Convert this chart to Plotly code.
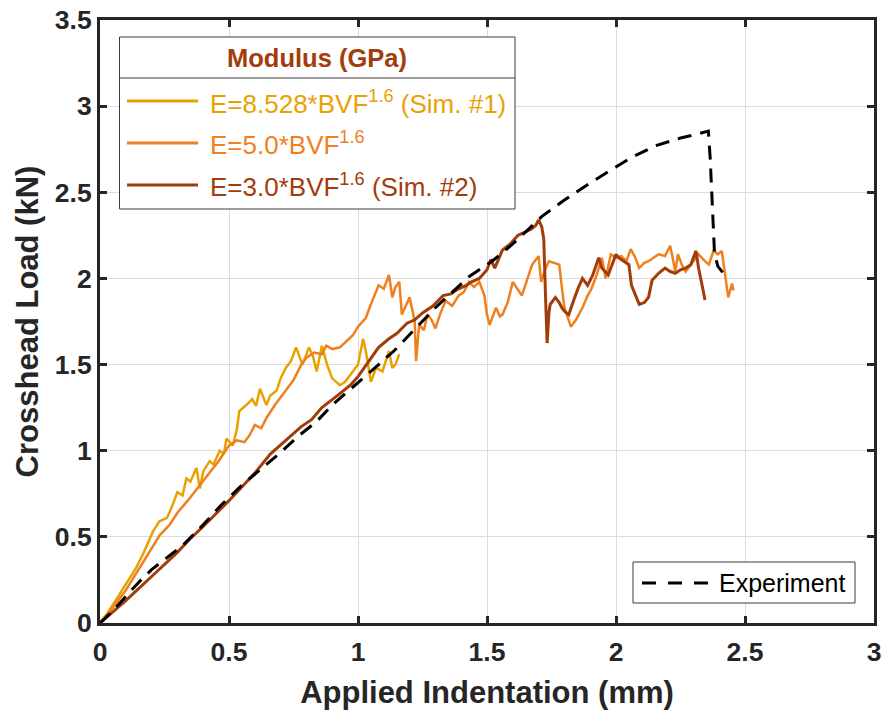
import plotly.graph_objects as go

# ---------------- data ----------------
sim1_x = [0, 0.03, 0.06, 0.09, 0.116, 0.14, 0.17, 0.205, 0.23, 0.26, 0.28, 0.30, 0.32, 0.335, 0.35,
          0.374, 0.387, 0.40, 0.425, 0.44, 0.464, 0.48, 0.49, 0.515, 0.53, 0.54, 0.567, 0.59, 0.605,
          0.62, 0.645, 0.66, 0.685, 0.70, 0.72, 0.74, 0.76, 0.785, 0.81, 0.825, 0.84, 0.86, 0.88,
          0.90, 0.93, 0.95, 0.98, 1.0, 1.02, 1.03, 1.05, 1.07, 1.095, 1.12, 1.133, 1.145, 1.16]
sim1_y = [0, 0.06, 0.13, 0.20, 0.26, 0.32, 0.41, 0.53, 0.59, 0.61, 0.68, 0.76, 0.74, 0.84, 0.82,
          0.90, 0.78, 0.88, 0.94, 0.92, 1.00, 0.98, 1.07, 1.03, 1.12, 1.23, 1.265, 1.30, 1.26,
          1.36, 1.265, 1.32, 1.35, 1.42, 1.48, 1.52, 1.60, 1.50, 1.60, 1.55, 1.46, 1.61, 1.50,
          1.42, 1.38, 1.40, 1.46, 1.50, 1.65, 1.58, 1.40, 1.48, 1.46, 1.58, 1.48, 1.50, 1.56]

sim5_x = [0, 0.05, 0.1, 0.15, 0.2, 0.232, 0.27, 0.30, 0.34, 0.387, 0.42, 0.46, 0.50, 0.53, 0.56,
          0.58, 0.60, 0.625, 0.645, 0.68, 0.72, 0.75, 0.78, 0.80, 0.83, 0.86, 0.877, 0.90, 0.93,
          0.96, 0.98, 1.0, 1.03, 1.05, 1.08, 1.10, 1.12, 1.133, 1.145, 1.16, 1.17, 1.185, 1.20,
          1.22, 1.225, 1.237, 1.255, 1.27, 1.285, 1.30, 1.32, 1.34, 1.365, 1.39, 1.41, 1.43, 1.45,
          1.47, 1.49, 1.50, 1.51, 1.535, 1.55, 1.56, 1.58, 1.60, 1.62, 1.635, 1.655, 1.675, 1.70,
          1.71, 1.725, 1.74, 1.76, 1.78, 1.79, 1.80, 1.825, 1.845, 1.87, 1.89, 1.905, 1.925, 1.945,
          1.96, 1.98, 2.0, 2.02, 2.04, 2.057, 2.075, 2.09, 2.11, 2.126, 2.145, 2.165, 2.19, 2.21,
          2.23, 2.24, 2.255, 2.27, 2.30, 2.32, 2.345, 2.36, 2.378, 2.395, 2.41, 2.43, 2.435, 2.45,
          2.455]
sim5_y = [0, 0.09, 0.19, 0.31, 0.43, 0.51, 0.57, 0.64, 0.71, 0.80, 0.86, 0.94, 1.03, 1.06, 1.05,
          1.09, 1.15, 1.13, 1.19, 1.27, 1.35, 1.41, 1.50, 1.54, 1.57, 1.56, 1.61, 1.59, 1.60,
          1.64, 1.67, 1.72, 1.77, 1.85, 1.96, 1.94, 2.02, 1.89, 1.95, 1.98, 1.79, 1.84, 1.89,
          1.75, 1.52, 1.73, 1.70, 1.79, 1.76, 1.71, 1.80, 1.87, 1.84, 1.90, 1.92, 1.98, 1.95,
          1.98, 1.90, 1.79, 1.73, 1.83, 1.78, 1.79, 1.86, 1.98, 1.93, 1.90, 1.99, 2.08, 2.13,
          1.98, 2.05, 2.10, 2.09, 2.08, 1.95, 1.83, 1.72, 1.76, 1.83, 1.90, 1.94, 2.02, 2.12,
          2.00, 2.14, 2.12, 2.13, 2.10, 2.17, 2.12, 2.06, 2.09, 2.10, 2.12, 2.14, 2.13, 2.19,
          2.04, 2.14, 2.08, 2.04, 2.10, 2.14, 2.10, 2.08, 2.16, 2.14, 2.16, 1.96, 1.89, 1.97,
          1.93]

sim2_x = [0, 0.1, 0.2, 0.3, 0.35, 0.4, 0.5, 0.6, 0.66, 0.72, 0.78, 0.82, 0.86, 0.92, 0.97, 1.0,
          1.044, 1.08, 1.12, 1.15, 1.19, 1.22, 1.25, 1.29, 1.33, 1.36, 1.39, 1.42, 1.44, 1.47, 1.50,
          1.515, 1.53, 1.56, 1.59, 1.62, 1.65, 1.675, 1.69, 1.70, 1.712, 1.72, 1.727, 1.733, 1.74,
          1.745, 1.765, 1.78, 1.79, 1.80, 1.817, 1.83, 1.84, 1.855, 1.87, 1.89, 1.91, 1.933, 1.945,
          1.97, 2.0, 2.01, 2.03, 2.05, 2.06, 2.075, 2.09, 2.11, 2.126, 2.14, 2.165, 2.19, 2.21,
          2.23, 2.25, 2.27, 2.29, 2.31, 2.32, 2.335, 2.345]
sim2_y = [0, 0.13, 0.27, 0.41, 0.49, 0.56, 0.71, 0.87, 0.98, 1.06, 1.14, 1.18, 1.25, 1.32, 1.38, 1.43,
          1.52, 1.60, 1.65, 1.68, 1.74, 1.76, 1.80, 1.84, 1.90, 1.91, 1.94, 1.96, 1.98, 2.00, 2.05,
          2.11, 2.06, 2.165, 2.20, 2.25, 2.27, 2.29, 2.31, 2.34, 2.30, 2.23, 1.89, 1.625, 1.80,
          1.85, 1.89, 1.86, 1.83, 1.81, 1.79, 1.84, 1.89, 1.95, 2.0, 1.96, 2.02, 2.12, 2.06,
          2.02, 2.14, 2.12, 2.10, 2.08, 1.96, 1.90, 1.85, 1.86, 1.89, 1.99, 2.03, 2.06, 2.04,
          2.03, 2.05, 2.06, 2.08, 2.16, 2.06, 1.95, 1.875]

exp_x = [0, 0.05, 0.1, 0.155, 0.2, 0.25, 0.32, 0.4, 0.47, 0.55, 0.63, 0.7, 0.773, 0.84, 0.9, 0.99,
         1.08, 1.14, 1.21, 1.30, 1.43, 1.52, 1.6, 1.713, 1.80, 1.906, 1.998, 2.057, 2.153, 2.25,
         2.32, 2.358, 2.365, 2.372, 2.378, 2.382, 2.395, 2.416]
exp_y = [0, 0.07, 0.155, 0.244, 0.31, 0.37, 0.45, 0.57, 0.685, 0.80, 0.90, 0.99, 1.09, 1.17, 1.265,
         1.38, 1.50, 1.58, 1.69, 1.83, 2.01, 2.10, 2.20, 2.36, 2.455, 2.56, 2.645, 2.70, 2.77,
         2.815, 2.84, 2.855, 2.70, 2.45, 2.22, 2.14, 2.07, 2.03]

x_ticks = [0, 0.5, 1, 1.5, 2, 2.5, 3]
x_tick_labels = ["0", "0.5", "1", "1.5", "2", "2.5", "3"]
y_ticks = [0, 0.5, 1, 1.5, 2, 2.5, 3, 3.5]
y_tick_labels = ["0", "0.5", "1", "1.5", "2", "2.5", "3", "3.5"]

series_names = ["E=8.528*BVF<sup>1.6</sup> (Sim. #1)", "E=5.0*BVF<sup>1.6</sup>",
                "E=3.0*BVF<sup>1.6</sup> (Sim. #2)"]
exp_name = "Experiment"
legend_title = "Modulus (GPa)"

# ---------------- style ----------------
C_YEL = "#E8A200"
C_ORG = "#F07F1E"
C_BRN = "#A23C0A"
AX = "#262626"
FONT = "Liberation Sans, Arial, sans-serif"

W, H = 883, 711
PL, PR, PT, PB = 100, 874, 20, 623   # plot-area pixel edges

fig = go.Figure()
for xs, ys, col, w, nm in [(sim1_x, sim1_y, C_YEL, 2.5, series_names[0]),
                           (sim5_x, sim5_y, C_ORG, 2.5, series_names[1]),
                           (sim2_x, sim2_y, C_BRN, 3, series_names[2])]:
    fig.add_trace(go.Scatter(x=xs, y=ys, mode="lines", name=nm,
                             line=dict(color=col, width=w)))
fig.add_trace(go.Scatter(x=exp_x, y=exp_y, mode="lines", name=exp_name,
                         line=dict(color="black", width=3, dash="14px,9px")))

axis_common = dict(showgrid=True, gridcolor="#dcdcdc", gridwidth=1, zeroline=False,
                   showline=True, linecolor=AX, linewidth=3, mirror="allticks",
                   ticks="inside", ticklen=7, tickwidth=2.5, tickcolor=AX, automargin=False,
                   tickfont=dict(family=FONT, size=26.5, color=AX, weight="bold"))
fig.update_xaxes(range=[0, 3], tickvals=x_ticks, ticktext=x_tick_labels, ticklabelstandoff=3,
                 title=dict(text="Applied Indentation (mm)", standoff=16,
                            font=dict(family=FONT, size=31, color=AX, weight="bold")),
                 **axis_common)
fig.update_yaxes(range=[0, 3.5], tickvals=y_ticks, ticktext=y_tick_labels,
                 title=dict(text="Crosshead Load (kN)", standoff=8,
                            font=dict(family=FONT, size=31, color=AX, weight="bold")),
                 **axis_common)

fig.update_layout(width=W, height=H, margin=dict(l=PL, r=W - PR, t=PT, b=H - PB),
                  plot_bgcolor="white", paper_bgcolor="white", showlegend=False,
                  font=dict(family=FONT, color=AX))


def px(p):
    return (p - PL) / (PR - PL)


def py(p):
    return (PB - p) / (PB - PT)


shapes = []
anns = []
# legend 1 box
shapes.append(dict(type="rect", xref="paper", yref="paper", x0=px(119.5), x1=px(515),
                   y0=py(209), y1=py(37), fillcolor="white", line=dict(color="#3a3a3a", width=1),
                   layer="above"))
shapes.append(dict(type="line", xref="paper", yref="paper", x0=px(119.5), x1=px(515),
                   y0=py(78), y1=py(78), line=dict(color="#3a3a3a", width=1), layer="above"))
anns.append(dict(text="<b>" + legend_title + "</b>", xref="paper", yref="paper", x=px(317), y=py(58),
                 xanchor="center", yanchor="middle", showarrow=False,
                 font=dict(family=FONT, size=25.5, color=C_BRN)))
for i, (col, nm) in enumerate(zip([C_YEL, C_ORG, C_BRN], series_names)):
    yl = [101, 143, 185][i]
    shapes.append(dict(type="line", xref="paper", yref="paper", x0=px(127), x1=px(198),
                       y0=py(yl), y1=py(yl), line=dict(color=col, width=3), layer="above"))
    anns.append(dict(text=nm, xref="paper", yref="paper", x=px(208), y=py(yl + 1),
                     xanchor="left", yanchor="middle", showarrow=False,
                     font=dict(family=FONT, size=26, color=col)))
# legend 2 box
shapes.append(dict(type="rect", xref="paper", yref="paper", x0=px(633), x1=px(855),
                   y0=py(603), y1=py(562), fillcolor="white", line=dict(color="#3a3a3a", width=1),
                   layer="above"))
shapes.append(dict(type="line", xref="paper", yref="paper", x0=px(642), x1=px(710),
                   y0=py(583), y1=py(583), line=dict(color="black", width=3, dash="14px,12px"),
                   layer="above"))
anns.append(dict(text=exp_name, xref="paper", yref="paper", x=px(717), y=py(583),
                 xanchor="left", yanchor="middle", showarrow=False,
                 font=dict(family=FONT, size=25, color="black")))

fig.update_layout(shapes=shapes, annotations=anns)
fig.write_html("out.html")
